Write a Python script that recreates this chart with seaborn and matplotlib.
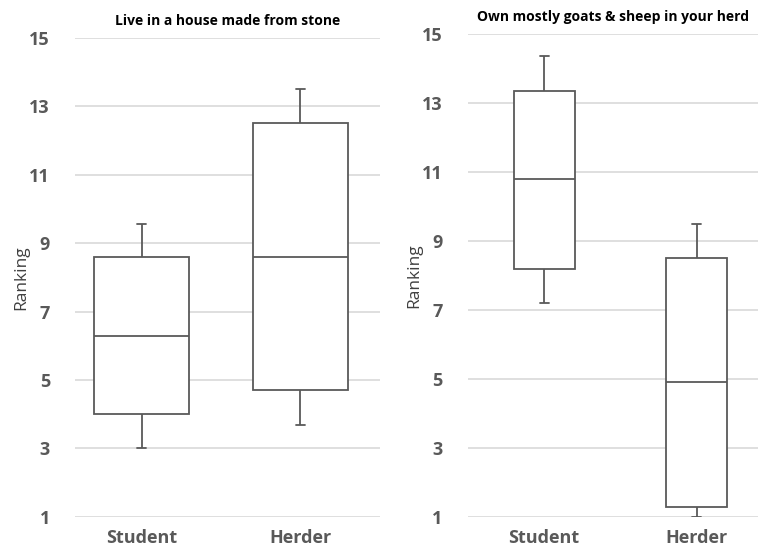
import pandas as pd
import seaborn as sns
import matplotlib.pyplot as plt

# five-number summaries: min, q1, median, q3, max
groups = ["Student", "Herder"]
stone_student = [3.0, 4.0, 6.3, 8.6, 9.55]
stone_herder = [3.7, 4.7, 8.6, 12.5, 13.5]
goats_student = [7.2, 8.2, 10.8, 13.35, 14.35]
goats_herder = [1.0, 1.3, 4.9, 8.5, 9.5]
titles = ["Live in a house made from stone", "Own mostly goats & sheep in your herd"]
yticks = [1, 3, 5, 7, 9, 11, 13, 15]


def long_df(student, herder):
    # with 5 points and whis=(0,100) the quartiles land exactly on the summary values
    return pd.DataFrame({
        "group": ["Student"] * len(student) + ["Herder"] * len(herder),
        "Ranking": student + herder,
    })


sns.set_style("white")
plt.rcParams["font.family"] = ["Open Sans", "DejaVu Sans"]

gray = "#595959"
fig = plt.figure(figsize=(7.58, 5.47), dpi=100)
ax1 = fig.add_axes([0.099, 0.055, 0.402, 0.876])
ax2 = fig.add_axes([0.617, 0.055, 0.383, 0.883])

panels = [
    (ax1, long_df(stone_student, stone_herder), 0.6, (-0.42, 1.5)),
    (ax2, long_df(goats_student, goats_herder), 0.4, (-0.5, 1.4)),
]

for (ax, df, w, xl), title in zip(panels, titles):
    sns.boxplot(data=df, x="group", y="Ranking", order=groups, ax=ax,
                whis=(0, 100), width=w, color="white", linecolor=gray,
                linewidth=1.3, capwidths=0.06, zorder=3)
    ax.set_ylim(1, 15)
    ax.set_xlim(*xl)
    ax.set_yticks(yticks)
    ax.yaxis.grid(True, color="#d9d9d9", linewidth=1.2, zorder=0)
    ax.set_axisbelow(True)
    for s in ax.spines.values():
        s.set_visible(False)
    ax.tick_params(axis="both", length=0, labelsize=13, labelcolor=gray)
    for lab in ax.get_xticklabels() + ax.get_yticklabels():
        lab.set_fontweight("bold")
    ax.tick_params(axis="y", pad=18)
    ax.tick_params(axis="x", pad=9)
    ax.set_xlabel("")
    ax.set_ylabel("Ranking", fontsize=12.5, color="#404040", labelpad=0)
    ax.set_title(title, fontsize=10, fontweight="bold", color="black", pad=9)

fig.savefig("out.png", dpi=100)
